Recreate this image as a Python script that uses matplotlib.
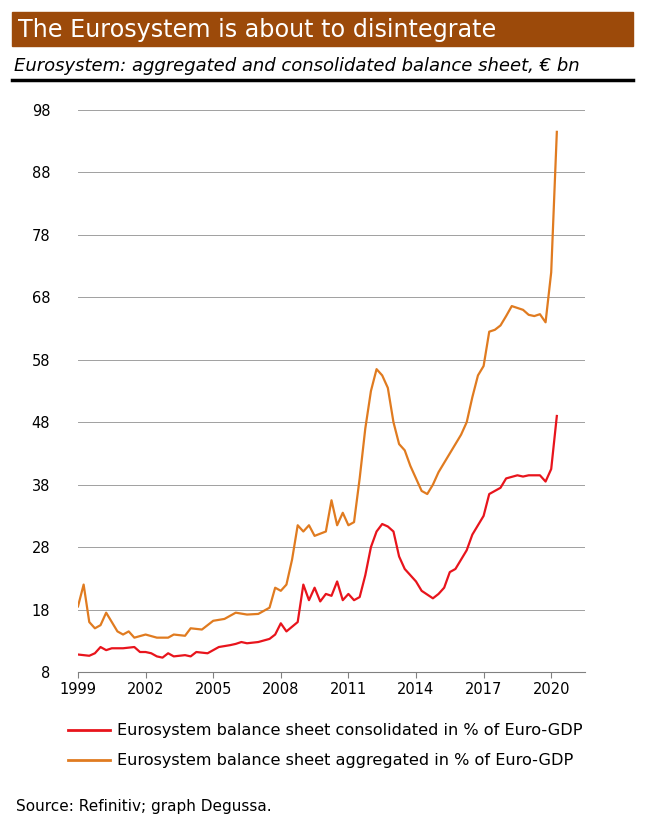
import matplotlib
matplotlib.use("Agg")
import matplotlib.pyplot as plt

plt.rcParams['font.family'] = ['DejaVu Sans']

# aggregated balance sheet, % of Euro-GDP
agg_t = [1999, 1999.25, 1999.5, 1999.75, 2000, 2000.25, 2000.5, 2000.75, 2001, 2001.25, 2001.5,
         2002, 2002.5, 2003, 2003.25, 2003.75, 2004, 2004.5, 2005, 2005.5, 2006, 2006.5, 2007,
         2007.5, 2007.75, 2008, 2008.25, 2008.5, 2008.75, 2009, 2009.25, 2009.5, 2010, 2010.25,
         2010.5, 2010.75, 2011, 2011.25, 2011.5, 2011.75, 2012, 2012.25, 2012.5, 2012.75, 2013,
         2013.25, 2013.5, 2013.75, 2014, 2014.25, 2014.5, 2014.75, 2015, 2015.5, 2016, 2016.25,
         2016.5, 2016.75, 2017, 2017.25, 2017.5, 2017.75, 2018, 2018.25, 2018.5, 2018.75, 2019,
         2019.25, 2019.5, 2019.75, 2020, 2020.25]
agg_v = [18.5, 22, 16, 15, 15.5, 17.5, 16, 14.5, 14, 14.5, 13.5,
         14, 13.5, 13.5, 14, 13.8, 15, 14.8, 16.2, 16.5, 17.5, 17.2, 17.3,
         18.3, 21.5, 21, 22, 26, 31.5, 30.5, 31.5, 29.8, 30.5, 35.5,
         31.5, 33.5, 31.5, 32, 39, 47, 53, 56.5, 55.5, 53.5, 48,
         44.5, 43.5, 41, 39, 37, 36.5, 38, 40, 43, 46, 48,
         52, 55.5, 57, 62.5, 62.8, 63.5, 65, 66.6, 66.3, 66, 65.2,
         65, 65.3, 64, 72, 94.5]

# consolidated balance sheet, % of Euro-GDP
con_t = [1999, 1999.5, 1999.75, 2000, 2000.25, 2000.5, 2001, 2001.5, 2001.75, 2002, 2002.25,
         2002.5, 2002.75, 2003, 2003.25, 2003.75, 2004, 2004.25, 2004.75, 2005, 2005.25, 2005.75,
         2006, 2006.25, 2006.5, 2007, 2007.5, 2007.75, 2008, 2008.25, 2008.75, 2009, 2009.25,
         2009.5, 2009.75, 2010, 2010.25, 2010.5, 2010.75, 2011, 2011.25, 2011.5, 2011.75, 2012,
         2012.25, 2012.5, 2012.75, 2013, 2013.25, 2013.5, 2013.75, 2014, 2014.25, 2014.75, 2015,
         2015.25, 2015.5, 2015.75, 2016, 2016.25, 2016.5, 2017, 2017.25, 2017.75, 2018, 2018.5,
         2018.75, 2019, 2019.5, 2019.75, 2020, 2020.25]
con_v = [10.8, 10.6, 11, 12, 11.5, 11.8, 11.8, 12, 11.2, 11.2, 11,
         10.5, 10.3, 11, 10.5, 10.7, 10.5, 11.2, 11, 11.5, 12, 12.3,
         12.5, 12.8, 12.6, 12.8, 13.3, 14, 15.8, 14.5, 16, 22, 19.5,
         21.5, 19.3, 20.5, 20.2, 22.5, 19.5, 20.5, 19.5, 20, 23.5, 28,
         30.5, 31.7, 31.3, 30.5, 26.5, 24.5, 23.5, 22.5, 21, 19.8, 20.5,
         21.5, 24, 24.5, 26, 27.5, 30, 33, 36.5, 37.5, 39, 39.5,
         39.3, 39.5, 39.5, 38.5, 40.5, 49]

yticks = [8, 18, 28, 38, 48, 58, 68, 78, 88, 98]
xticks = [1999, 2002, 2005, 2008, 2011, 2014, 2017, 2020]

W, H = 650, 836
fig = plt.figure(figsize=(6.5, 8.36), dpi=100)

# title banner
fig.patches.append(plt.Rectangle((12 / W, 1 - 46 / H), 621 / W, 34 / H,
                                 transform=fig.transFigure, color='#9C4A0A'))
fig.text(18 / W, 1 - 30 / H, 'The Eurosystem is about to disintegrate', color='white',
         fontsize=17.2, va='center')
fig.text(14 / W, 1 - 66 / H, 'Eurosystem: aggregated and consolidated balance sheet, € bn',
         fontsize=13, style='italic', va='center')
fig.add_artist(plt.Line2D([12 / W, 633 / W], [1 - 80 / H, 1 - 80 / H], color='black', lw=2.5))

ax = fig.add_axes([78 / W, 1 - 672 / H, 507 / W, 562 / H])
ax.plot(agg_t, agg_v, color='#E07B20', lw=1.6)
ax.plot(con_t, con_v, color='#E8141C', lw=1.6)
ax.set_ylim(8, 98)
ax.set_xlim(1999, 2021.5)
ax.set_yticks(yticks)
ax.set_xticks(xticks)
ax.grid(axis='y', color='#A0A0A0', lw=0.7)
for s in ['top', 'right', 'left']:
    ax.spines[s].set_visible(False)
ax.spines['bottom'].set_color('#808080')
ax.tick_params(axis='y', length=0, labelsize=10.5, pad=20)
ax.tick_params(axis='x', labelsize=10.5, color='#808080', length=4)

# legend
fig.add_artist(plt.Line2D([68 / W, 110 / W], [1 - 730 / H] * 2, color='#E8141C', lw=2))
fig.text(117 / W, 1 - 730 / H, 'Eurosystem balance sheet consolidated in % of Euro-GDP',
         fontsize=11.6, va='center')
fig.add_artist(plt.Line2D([68 / W, 110 / W], [1 - 760 / H] * 2, color='#E07B20', lw=2))
fig.text(117 / W, 1 - 760 / H, 'Eurosystem balance sheet aggregated in % of Euro-GDP',
         fontsize=11.6, va='center')

fig.text(16 / W, 1 - 806 / H, 'Source: Refinitiv; graph Degussa.', fontsize=11, va='center')

fig.savefig('out.png', dpi=100)
